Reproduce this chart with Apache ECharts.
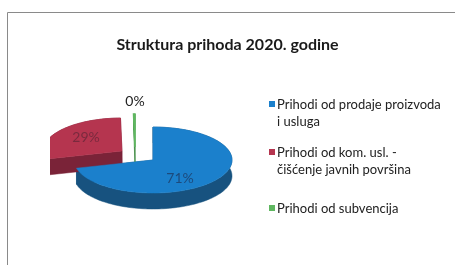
<!DOCTYPE html>
<html>
<head>
<meta charset="utf-8">
<script src="https://cdn.jsdelivr.net/npm/echarts@6/dist/echarts.min.js"></script>
<style>
html, body { margin: 0; padding: 0; background: #fff; }
#chart-panel { width: 455px; height: 265px; }
</style>
</head>
<body>
<div id="chart-panel"></div>
<script>
// podaci
const title = "Struktura prihoda 2020. godine"
const categories = [
  "Prihodi od prodaje proizvoda\ni usluga",
  "Prihodi od kom. usl. -\nčišćenje javnih površina",
  "Prihodi od subvencija"
]
const values = [71, 28.7, 0.3]

// izgled
const topColors = ["#1b80cc", "#b5354f", "#5fb760"]
const sideColors = ["#17527f", "#7a2338", "#3f8a42"]
const labelColors = ["#1d4a7c", "#7a2a3e", "#222"]
const explode = [[0, 0], [-31, -9], [-18, -13]]
const labelOffset = [[27, 18], [-67, -23], [-18, -59]]
const cx = 153, cy = 160, rx = 79, ry = 33, depth = 16
const font = "Lato, 'Open Sans', sans-serif"

const total = values.reduce((a, b) => a + b, 0)
const slices = []
let acc = 0
values.forEach((v) => {
  const a0 = 90 - (360 * acc) / total
  acc += v
  const a1 = 90 - (360 * acc) / total
  slices.push({ a0, a1, pct: Math.round((v / total) * 100) })
})

const pt = (a, ox, oy, h) => {
  const r = (a * Math.PI) / 180
  return [cx + ox + rx * Math.cos(r), cy + oy - ry * Math.sin(r) + h]
}
const arc = (a0, a1, ox, oy, h) => {
  const n = Math.max(2, Math.ceil(Math.abs(a0 - a1) / 2))
  const pts = []
  for (let k = 0; k <= n; k++) pts.push(pt(a0 + ((a1 - a0) * k) / n, ox, oy, h))
  return pts
}
const clip = { type: "rect", shape: { x: 50, y: 0, width: 405, height: 265 } }

const chart = echarts.init(document.getElementById("chart-panel"))

const renderWalls = (params) => {
  const i = params.dataIndex
  const s = slices[i]
  const [ox, oy] = explode[i]
  const c = [cx + ox, cy + oy]
  const children = []
  ;[s.a0, s.a1].forEach((a) => {
    const p = pt(a, ox, oy, 0)
    children.push({
      type: "polygon",
      shape: { points: [c, p, [p[0], p[1] + depth], [c[0], c[1] + depth]] },
      style: { fill: sideColors[i], stroke: sideColors[i], lineWidth: 0.5 }
    })
  })
  const top = arc(s.a0, s.a1, ox, oy, 0)
  const bottom = arc(s.a0, s.a1, ox, oy, depth).reverse()
  children.push({
    type: "polygon",
    shape: { points: top.concat(bottom) },
    style: { fill: sideColors[i], stroke: sideColors[i], lineWidth: 0.5 }
  })
  return { type: "group", clipPath: clip, children }
}

const renderTops = (params) => {
  const i = params.dataIndex
  const s = slices[i]
  const [ox, oy] = explode[i]
  const c = [cx + ox, cy + oy]
  return {
    type: "group",
    clipPath: clip,
    children: [
      {
        type: "polygon",
        shape: { points: [c].concat(arc(s.a0, s.a1, ox, oy, 0)) },
        style: { fill: topColors[i], stroke: topColors[i], lineWidth: i === 2 ? 1.5 : 0.5 }
      },
      {
        type: "text",
        x: cx + labelOffset[i][0],
        y: cy + labelOffset[i][1],
        style: {
          text: s.pct + "%",
          fill: labelColors[i],
          font: "14px " + font,
          align: "center",
          verticalAlign: "middle"
        }
      }
    ]
  }
}

// legenda
const legendItems = []
const legendTop = [96, 144, 200]
categories.forEach((name, i) => {
  legendItems.push({
    type: "rect",
    shape: { x: 269, y: legendTop[i] + 5, width: 6, height: 6 },
    style: { fill: topColors[i] }
  })
  legendItems.push({
    type: "text",
    x: 277,
    y: legendTop[i],
    style: {
      text: name,
      fill: "#222",
      font: "13px " + font,
      lineHeight: 17,
      verticalAlign: "top"
    }
  })
})

const options = {
  animation: false,
  backgroundColor: "#fff",
  title: {
    text: title,
    left: "center",
    top: 32,
    textStyle: { fontFamily: font, fontSize: 16, fontWeight: "bold", color: "#1a1a1a" }
  },
  graphic: [
    {
      type: "rect",
      shape: { x: 7.5, y: 12.5, width: 470, height: 270 },
      style: { fill: "none", stroke: "#8a8a8a", lineWidth: 1 }
    }
  ].concat(legendItems),
  series: [
    { type: "custom", coordinateSystem: "none", renderItem: renderWalls, data: values, silent: true },
    { type: "custom", coordinateSystem: "none", renderItem: renderTops, data: values, silent: true }
  ]
}
chart.setOption(options)
</script>
</body>
</html>
